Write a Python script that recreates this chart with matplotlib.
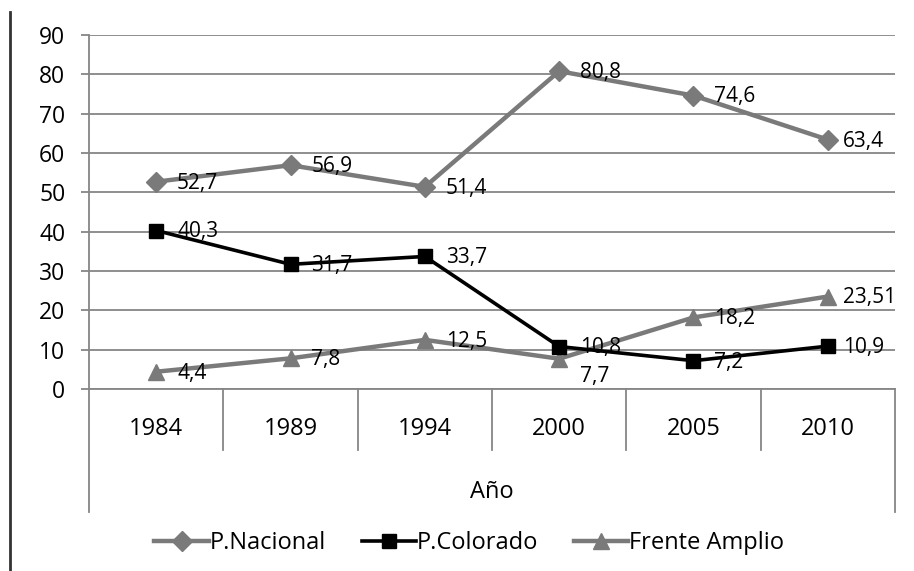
import matplotlib.pyplot as plt
from matplotlib.lines import Line2D

# data
years = ["1984", "1989", "1994", "2000", "2005", "2010"]
nacional = [52.7, 56.9, 51.4, 80.8, 74.6, 63.4]
colorado = [40.3, 31.7, 33.7, 10.8, 7.2, 10.9]
frente = [4.4, 7.8, 12.5, 7.7, 18.2, 23.51]
frente_labels = ["4,4", "7,8", "12,5", "7,7", "18,2", "23,51"]

plt.rcParams['font.family'] = ['Open Sans', 'DejaVu Sans']

GRAY = "#7a7a7a"
AXC = "#868686"

fig = plt.figure(figsize=(9.14, 5.71), dpi=100)
ax = fig.add_axes([0.0974, 0.3187, 0.8818, 0.62])

x = list(range(len(years)))


def fmt(v):
    return f"{v:g}".replace(".", ",")


ax.plot(x, nacional, color=GRAY, lw=3.2, marker="D", ms=10, label="P.Nacional", zorder=3)
ax.plot(x, colorado, color="black", lw=2.6, marker="s", ms=10, label="P.Colorado", zorder=4)
ax.plot(x, frente, color=GRAY, lw=3.2, marker="^", ms=11, label="Frente Amplio", zorder=3)

LS = 15
for i in x:
    dx = 15 if i < 5 else 11
    ax.annotate(fmt(nacional[i]), (i, nacional[i]), xytext=(dx, -1), textcoords="offset points",
                fontsize=LS, va="center", ha="left", zorder=5)
    ax.annotate(fmt(colorado[i]), (i, colorado[i]), xytext=(dx, -1), textcoords="offset points",
                fontsize=LS, va="center", ha="left", zorder=5)
    off = (dx, -1) if i != 3 else (15, -13)
    ax.annotate(frente_labels[i], (i, frente[i]), xytext=off, textcoords="offset points",
                fontsize=LS, va="center", ha="left", zorder=5)

ax.set_xlim(-0.5, 5.5)
ax.set_ylim(0, 90)
ax.set_yticks(range(0, 91, 10))
ax.yaxis.grid(True, color=AXC, lw=1.3)
ax.set_axisbelow(True)
ax.tick_params(axis="y", length=6, width=1.3, color=AXC, pad=11, labelsize=16.5)
ax.set_xticks(x)
ax.set_xticklabels(years)
ax.tick_params(axis="x", length=0, pad=20, labelsize=17)

for s in ["top", "right"]:
    ax.spines[s].set_visible(False)
for s in ["left", "bottom"]:
    ax.spines[s].set_color(AXC)
    ax.spines[s].set_linewidth(1.3)

# category separators below the axis
tr = ax.get_xaxis_transform()
for b in [0.5, 1.5, 2.5, 3.5, 4.5]:
    ax.add_line(Line2D([b, b], [0, -0.172], transform=tr, color=AXC, lw=1.3, clip_on=False))
for b in [-0.5, 5.5]:
    ax.add_line(Line2D([b, b], [0, -0.347], transform=tr, color=AXC, lw=1.3, clip_on=False))

fig.text(0.538, 1 - 492 / 571, "Año", ha="center", va="center", fontsize=17)

ax.legend(loc="center", bbox_to_anchor=(0.472, -0.435), ncol=3, frameon=False, fontsize=17,
          handlelength=2.3, handletextpad=0.05, columnspacing=1.5)

# left border line
fig.add_artist(Line2D([0.011, 0.011], [0, 1 - 12 / 571], transform=fig.transFigure, color="#333333", lw=2))

fig.savefig("out.png", dpi=100)
